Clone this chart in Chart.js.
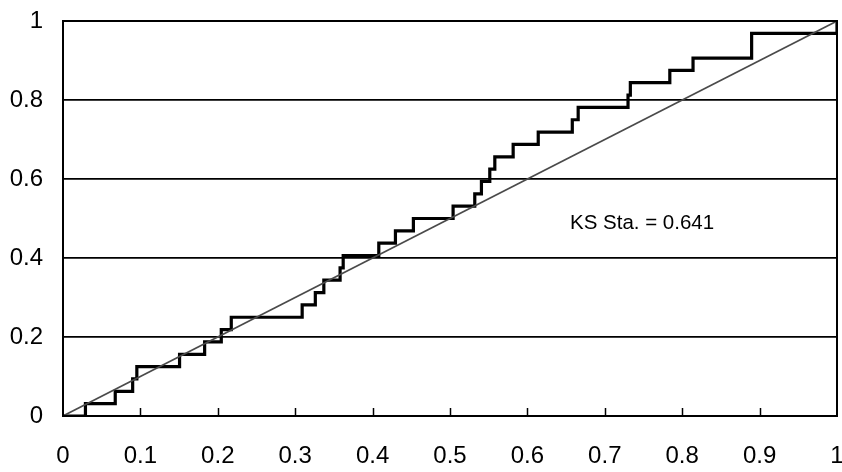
<!DOCTYPE html>
<html>
<head>
<meta charset="utf-8">
<script src="https://cdn.jsdelivr.net/npm/chart.js@4"></script>
<style>
  html, body { margin: 0; padding: 0; background: #fff; }
  #wrap { width: 842px; height: 472px; }
</style>
</head>
<body>
<div id="wrap"><canvas id="myChart"></canvas></div>
<script>
const ecdfX = [0, 0.029, 0.0675, 0.090, 0.0954, 0.1506, 0.183, 0.2045, 0.2174, 0.309,
  0.326, 0.337, 0.358, 0.362, 0.408, 0.4295, 0.4527, 0.504, 0.532, 0.5406,
  0.5514, 0.5579, 0.5816, 0.614, 0.658, 0.6656, 0.730, 0.733, 0.784, 0.814,
  0.8897, 1.0]
const ecdfY = [0, 0.03125, 0.0625, 0.09375, 0.125, 0.15625, 0.1875, 0.21875, 0.25, 0.28125,
  0.3125, 0.34375, 0.375, 0.40625, 0.4375, 0.46875, 0.5, 0.53125, 0.5625, 0.59375,
  0.625, 0.65625, 0.6875, 0.71875, 0.75, 0.78125, 0.8125, 0.84375, 0.875, 0.90625,
  0.96875, 1.0]

// uniform reference line
const refX = [0, 1]
const refY = [0, 1]

const ksLabel = 'KS Sta. = 0.641'
const ksPos = [0.655, 0.491]

const fontName = '"Liberation Sans", Arial, sans-serif'

const stepPts = ecdfX.map((x, i) => ({ x: x, y: ecdfY[i] }))
const refPts = refX.map((x, i) => ({ x: x, y: refY[i] }))

const framePlugin = {
  id: 'frame',
  afterDraw(chart) {
    const c = chart.ctx
    const a = chart.chartArea
    const xs = chart.scales.x
    const ys = chart.scales.y
    c.save()
    c.strokeStyle = '#000'
    c.lineWidth = 2
    c.strokeRect(a.left, a.top, a.right - a.left, a.bottom - a.top)
    // small tick marks on the x axis, pointing into the plot
    c.lineWidth = 1.5
    xs.ticks.forEach(t => {
      if (t.value <= 0 || t.value >= 1) return
      const px = Math.round(xs.getPixelForValue(t.value)) + 0.5
      c.beginPath()
      c.moveTo(px, a.bottom)
      c.lineTo(px, a.bottom - 8)
      c.stroke()
    })
    c.fillStyle = '#000'
    c.font = '20.5px ' + fontName
    c.textAlign = 'left'
    c.textBaseline = 'middle'
    c.fillText(ksLabel, xs.getPixelForValue(ksPos[0]), ys.getPixelForValue(ksPos[1]) + 1)
    c.restore()
  }
}

const fmt = v => String(Math.round(v * 10) / 10)

const ctx = document.getElementById('myChart')

new Chart(ctx, {
  type: 'scatter',
  data: {
    datasets: [
      {
        label: 'uniform',
        data: refPts,
        showLine: true,
        borderColor: '#4a4a4a',
        borderWidth: 1.6,
        pointRadius: 0
      },
      {
        label: 'ecdf',
        data: stepPts,
        showLine: true,
        stepped: true,
        borderColor: '#000',
        borderWidth: 3.2,
        pointRadius: 0
      }
    ]
  },
  options: {
    responsive: true,
    maintainAspectRatio: false,
    animation: false,
    layout: { padding: { top: 21, right: 5, left: 0, bottom: 0 } },
    plugins: {
      legend: { display: false },
      tooltip: { enabled: false }
    },
    scales: {
      x: {
        type: 'linear',
        min: 0,
        max: 1,
        grid: { color: 'transparent', drawTicks: true, tickLength: 24 },
        border: { display: false },
        ticks: {
          stepSize: 0.1,
          color: '#000',
          padding: 2,
          maxRotation: 0,
          autoSkip: false,
          callback: fmt,
          font: { family: fontName, size: 24 }
        },
        afterFit(s) {
          s.height = 56
          s.paddingLeft = 0
          s.paddingRight = 0
        }
      },
      y: {
        min: 0,
        max: 1,
        grid: {
          color: '#000',
          lineWidth: 1.7,
          drawTicks: true,
          tickLength: 18,
          tickColor: 'transparent'
        },
        border: { display: false },
        ticks: {
          stepSize: 0.2,
          color: '#000',
          padding: 2,
          callback: fmt,
          font: { family: fontName, size: 24 }
        },
        afterFit(s) {
          s.width = 63
          s.paddingTop = 0
          s.paddingBottom = 0
        }
      }
    }
  },
  plugins: [framePlugin]
})
</script>
</body>
</html>
